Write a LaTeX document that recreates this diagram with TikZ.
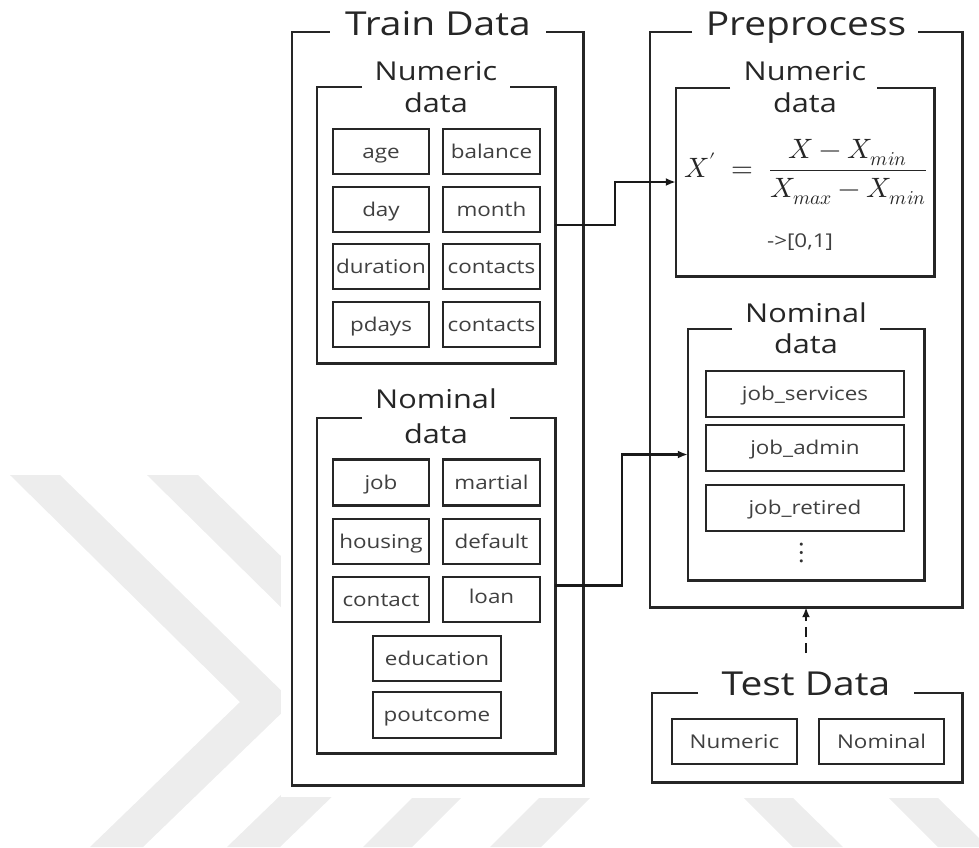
\documentclass[tikz,border=0pt]{standalone}
\usepackage{fontspec}
\usepackage{unicode-math}
\setmainfont{Open Sans}[FakeStretch=1.18]
\setmathfont{Latin Modern Math}
\usetikzlibrary{arrows.meta}
\begin{document}
\begin{tikzpicture}[x=1pt,y=-1pt,
  wm/.style={fill=black!7},
  frame/.style={draw=black!85, line width=2.6pt, line join=miter},
  grp/.style={inner sep=0pt},
  bigtitle/.style={anchor=base, text=black!85, font=\fontsize{33}{38}\selectfont},
  subtitle/.style={anchor=base, text=black!85, font=\fontsize{26}{30}\selectfont},
  cell/.style={draw=black!85, line width=2.4pt, inner sep=0pt, minimum height=45pt,
    text height=17.5pt, text depth=4pt, text=black!75, font=\fontsize{19}{22}\selectfont},
  conn/.style={draw=black!90, line width=2.2pt, -{Latex[length=10pt,width=8pt]}}]
\useasboundingbox (0,0) rectangle (979,847);
% watermark
\fill[wm] (10,475) -- (60,475) -- (293,702) -- (143,847) -- (90,847) -- (240,702) -- cycle;
\fill[wm] (147,475) -- (198,475) -- (430,702) -- (280,847) -- (227,847) -- (377,702) -- cycle;
\fill[wm] (412,798) -- (461,798) -- (412,847) -- (363,847) -- cycle;
\fill[wm] (539,798) -- (590,798) -- (541,847) -- (490,847) -- cycle;
\fill[wm] (744,798) -- (793,798) -- (843,847) -- (793,847) -- cycle;
\fill[wm] (889,798) -- (938,798) -- (979,838) -- (979,847) -- (938,847) -- cycle;
\fill[white] (281,0) rectangle (979,797);

% ---------- Train Data ----------
\node[grp, minimum width=291pt, minimum height=753pt] (train) at (437.5,408.5) {};
\draw[frame] ([xshift=-108pt]train.north) -- (train.north west) -- (train.south west)
  -- (train.south east) -- (train.north east) -- ([xshift=108pt]train.north);
\node[bigtitle] (traint) at (438,35) {Train Data};

\node[grp, minimum width=238pt, minimum height=276pt] (trnum) at (436,225) {};
\draw[frame] ([xshift=-74pt]trnum.north) -- (trnum.north west) -- (trnum.south west)
  -- (trnum.south east) -- (trnum.north east) -- ([xshift=74pt]trnum.north);
\node[subtitle] (trnumt1) at (436,80) {Numeric};
\node[subtitle] (trnumt2) at (436,112) {data};

\node[cell, minimum width=96pt] (age) at (381,151.5) {age};
\node[cell, minimum width=97pt] (balance) at (491.5,151.5) {balance};
\node[cell, minimum width=96pt] (day) at (381,209.5) {day};
\node[cell, minimum width=97pt] (month) at (491.5,209.5) {month};
\node[cell, minimum width=96pt] (duration) at (381,266.5) {duration};
\node[cell, minimum width=97pt] (contacts1) at (491.5,266.5) {contacts};
\node[cell, minimum width=96pt] (pdays) at (381,324.5) {pdays};
\node[cell, minimum width=97pt] (contacts2) at (491.5,324.5) {contacts};

\node[grp, minimum width=238pt, minimum height=335pt] (trnom) at (436,585.5) {};
\draw[frame] ([xshift=-74pt]trnom.north) -- (trnom.north west) -- (trnom.south west)
  -- (trnom.south east) -- (trnom.north east) -- ([xshift=74pt]trnom.north);
\node[subtitle] (trnomt1) at (436,408) {Nominal};
\node[subtitle] (trnomt2) at (436,443) {data};

\node[cell, minimum width=96pt, minimum height=46pt] (job) at (381,482.5) {job};
\node[cell, minimum width=97pt, minimum height=46pt] (martial) at (491.5,482.5) {martial};
\node[cell, minimum width=96pt] (housing) at (381,541.5) {housing};
\node[cell, minimum width=97pt] (default) at (491.5,541.5) {default};
\node[cell, minimum width=96pt] (contact) at (381,599.5) {contact};
\node[cell, minimum width=97pt, text depth=10.5pt] (loan) at (491.5,599.5) {loan};
\node[cell, minimum width=128pt] (education) at (437,658.5) {education};
\node[cell, minimum width=128pt, minimum height=46pt] (poutcome) at (437,715) {poutcome};

% ---------- Preprocess ----------
\node[grp, minimum width=312pt, minimum height=575pt] (prepro) at (806,319.5) {};
\draw[frame] ([xshift=-114pt]prepro.north) -- (prepro.north west) -- (prepro.south west)
  -- (prepro.south east) -- (prepro.north east) -- ([xshift=112pt]prepro.north);
\node[bigtitle] (preprot) at (806,35) {Preprocess};

\node[grp, minimum width=258pt, minimum height=188pt] (prenum) at (805,182) {};
\draw[frame] ([xshift=-75pt]prenum.north) -- (prenum.north west) -- (prenum.south west)
  -- (prenum.south east) -- (prenum.north east) -- ([xshift=72pt]prenum.north);
\node[subtitle] (prenumt1) at (805,80) {Numeric};
\node[subtitle] (prenumt2) at (805,112) {data};
\node[text=black!85] (formula) at (806,172)
  {\fontsize{28}{32}\selectfont$\displaystyle X' \;= \;\frac{X - X_{min}}{X_{max} - X_{min}}$};
\node[text=black!75, font=\fontsize{19}{22}\selectfont] (range) at (800,242) {-{}>[0,1]};

\node[grp, minimum width=236pt, minimum height=251pt] (prenom) at (806,454.5) {};
\draw[frame] ([xshift=-74pt]prenom.north) -- (prenom.north west) -- (prenom.south west)
  -- (prenom.south east) -- (prenom.north east) -- ([xshift=74pt]prenom.north);
\node[subtitle] (prenomt1) at (806,322) {Nominal};
\node[subtitle] (prenomt2) at (806,353) {data};

\node[cell, minimum width=198pt, minimum height=46pt] (jobserv) at (805,394) {job\_services};
\node[cell, minimum width=198pt, minimum height=46pt] (jobadmin) at (805,448) {job\_admin};
\node[cell, minimum width=198pt, minimum height=46pt] (jobret) at (805,508) {job\_retired};
\node[text=black!80, font=\fontsize{30}{34}\selectfont] (dots) at (802,553) {$\vdots$};

% ---------- Test Data ----------
\node[grp, minimum width=310pt, minimum height=89pt] (test) at (807,737.5) {};
\draw[frame] ([xshift=-109pt]test.north) -- (test.north west) -- (test.south west)
  -- (test.south east) -- (test.north east) -- ([xshift=107pt]test.north);
\node[bigtitle] (testt) at (806,695) {Test Data};
\node[cell, minimum width=125pt] (tnum) at (734.5,741.5) {Numeric};
\node[cell, minimum width=125pt] (tnom) at (881.5,741.5) {Nominal};

% ---------- connectors ----------
\draw[conn] (trnum.east) -- ++(60,0) |- (prenum.west);
\draw[conn] (trnom.east) -- ++(67,0) |- (prenom.west);
\coordinate (dstart) at (806,653);
\draw[conn, dash pattern=on 10pt off 6pt] (dstart) -- (prepro.south);
\end{tikzpicture}
\end{document}
